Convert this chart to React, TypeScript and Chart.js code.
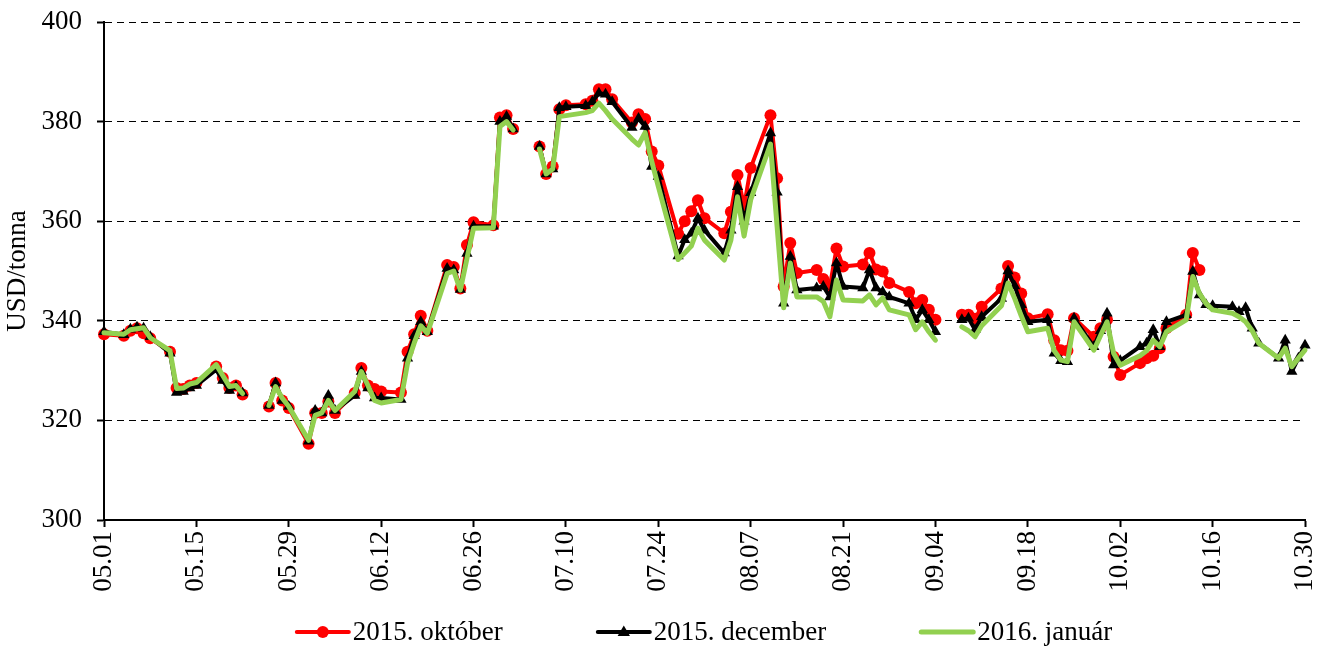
import React, { useEffect, useRef } from "react";
import { Chart, registerables } from "chart.js";

Chart.register(...registerables);

// Trading days (MM.DD, 2015); holidays are kept with null values so the lines break there
const dates = [
  "05.01", "05.04", "05.05", "05.06", "05.07", "05.08",
  "05.11", "05.12", "05.13", "05.14", "05.15",
  "05.18", "05.19", "05.20", "05.21", "05.22",
  "05.25", "05.26", "05.27", "05.28", "05.29",
  "06.01", "06.02", "06.03", "06.04", "06.05",
  "06.08", "06.09", "06.10", "06.11", "06.12",
  "06.15", "06.16", "06.17", "06.18", "06.19",
  "06.22", "06.23", "06.24", "06.25", "06.26",
  "06.29", "06.30", "07.01", "07.02", "07.03",
  "07.06", "07.07", "07.08", "07.09", "07.10",
  "07.13", "07.14", "07.15", "07.16", "07.17",
  "07.20", "07.21", "07.22", "07.23", "07.24",
  "07.27", "07.28", "07.29", "07.30", "07.31",
  "08.03", "08.04", "08.05", "08.06", "08.07",
  "08.10", "08.11", "08.12", "08.13", "08.14",
  "08.17", "08.18", "08.19", "08.20", "08.21",
  "08.24", "08.25", "08.26", "08.27", "08.28",
  "08.31", "09.01", "09.02", "09.03", "09.04",
  "09.07", "09.08", "09.09", "09.10", "09.11",
  "09.14", "09.15", "09.16", "09.17", "09.18",
  "09.21", "09.22", "09.23", "09.24", "09.25",
  "09.28", "09.29", "09.30", "10.01", "10.02",
  "10.05", "10.06", "10.07", "10.08", "10.09",
  "10.12", "10.13", "10.14", "10.15", "10.16",
  "10.19", "10.20", "10.21", "10.22", "10.23",
  "10.26", "10.27", "10.28", "10.29", "10.30",
];

const oct2015 = [
  337.3, 337.0, 338.0, 338.5, 337.5, 336.5,
  333.8, 326.5, 326.3, 327.0, 327.5,
  330.8, 328.5, 326.5, 327.0, 325.2,
  null, 322.8, 327.5, 324.0, 322.5,
  315.3, 321.5, 321.5, 323.8, 321.5,
  325.5, 330.5, 327.0, 326.3, 325.8,
  325.6, 333.8, 337.3, 341.0, 338.0,
  351.2, 350.8, 346.5, 355.2, 359.8,
  359.2, 380.8, 381.3, 378.5, null,
  375.0, 369.5, 371.0, 382.5, 383.3,
  383.5, 384.2, 386.5, 386.5, 384.5,
  379.8, 381.5, 380.5, 374.0, 371.2,
  357.5, 360.0, 362.0, 364.2, 360.6,
  357.6, 361.9, 369.3, 363.0, 370.7,
  381.3, 368.6, 346.9, 355.6, 349.6,
  350.2, 348.4, 346.9, 354.5, 350.9,
  351.3, 353.6, 350.3, 349.9, 347.6,
  345.8, 343.5, 344.2, 342.2, 340.2,
  null, 341.2, 341.2, 340.4, 342.8,
  346.5, 351.0, 348.7, 345.5, 340.5,
  341.3, 336.1, 334.1, 334.0, 340.5,
  336.8, 338.5, 340.2, 332.8, 329.1,
  331.5, 332.5, 333.0, 334.5, 338.5,
  341.2, 353.6, 350.2, null, null,
  null, null, null, null, null,
  null, null, null, null, null,
];

const dec2015 = [
  337.8, 337.2, 338.3, 338.7, 338.5, 336.8,
  333.5, 325.6, 325.8, 326.5, 327.0,
  330.2, 328.0, 326.0, 326.8, 325.5,
  null, 323.0, 327.5, 324.0, 322.8,
  315.8, 322.0, 321.5, 325.0, 322.0,
  325.0, 329.8, 326.5, 324.5, 324.5,
  324.2, 332.5, 337.0, 339.8, 337.8,
  350.5, 350.2, 346.3, 353.5, 359.0,
  359.0, 380.0, 381.0, 378.5, null,
  375.0, 369.5, 370.5, 382.8, 383.0,
  383.2, 384.0, 385.7, 385.5, 384.0,
  378.8, 380.6, 379.0, 371.0, 369.0,
  353.0, 356.3, 357.6, 360.6, 358.2,
  353.6, 358.2, 366.9, 360.0, 365.7,
  377.7, 365.8, 343.5, 352.9, 346.2,
  346.6, 346.9, 344.8, 351.6, 346.9,
  346.6, 350.2, 346.6, 345.8, 344.8,
  343.5, 340.2, 342.2, 340.2, 337.8,
  null, 340.2, 340.5, 338.2, 340.8,
  344.5, 350.0, 347.0, 343.2, 339.8,
  340.2, 333.5, 332.0, 331.8, 340.5,
  334.8, 338.0, 341.5, 331.1, 332.0,
  334.8, 335.5, 338.2, 334.8, 339.8,
  341.2, 349.9, 345.2, 343.2, 343.0,
  342.8, 341.8, 342.6, 338.5, 335.5,
  332.5, 336.1, 329.8, 332.5, 335.1,
];

const jan2016 = [
  337.6, 337.3, 338.2, 338.4, 338.6, 336.6,
  334.0, 326.4, 326.5, 327.3, 327.6,
  331.2, 329.0, 326.8, 327.0, 325.4,
  null, 323.0, 326.8, 324.5, 322.8,
  316.0, 321.0, 321.5, 324.0, 322.0,
  325.8, 329.8, 327.0, 324.0, 323.5,
  324.2, 331.5, 335.5, 339.0, 337.5,
  349.5, 350.0, 346.2, 352.5, 358.6,
  358.7, 379.0, 380.0, 378.3, null,
  374.5, 369.5, 370.5, 381.0, 381.2,
  381.8, 382.2, 383.7, 382.2, 380.5,
  376.5, 375.3, 377.8, 372.0, 367.0,
  352.3, 353.6, 355.0, 358.6, 356.2,
  352.2, 356.2, 364.9, 357.0, 364.3,
  375.5, 359.0, 342.6, 351.6, 344.8,
  344.8, 343.9, 340.8, 348.2, 344.2,
  344.0, 345.2, 343.2, 344.6, 342.2,
  341.2, 338.2, 339.8, 337.8, 336.1,
  null, 338.8, 338.0, 336.8, 339.0,
  343.0, 347.6, 344.5, 341.0, 337.8,
  338.5, 334.0, 332.1, 331.8, 339.8,
  334.1, 337.0, 339.8, 333.5, 331.1,
  333.0, 334.0, 336.1, 334.8, 337.8,
  340.2, 348.9, 345.5, 343.5, 342.2,
  341.5, 340.8, 339.8, 338.0, 335.5,
  332.5, 334.5, 330.8, 332.5, 334.1,
];

const seriesNames = ["2015. október", "2015. december", "2016. január"];
const yAxisTitle = "USD/tonna";
const yMin = 300;
const yMax = 400;
const yStep = 20;
const xFirst = "05.01";
const xLast = "10.30";
const xStepDays = 14;
const YEAR = 2015;

const FONT = "'Liberation Serif', 'Times New Roman', serif";
const DAY = 86400000;

const toDate = (s: string) => {
  const [m, d] = s.split(".").map(Number);
  return Date.UTC(YEAR, m - 1, d);
};
const dayIndex = (s: string) => Math.round((toDate(s) - toDate(xFirst)) / DAY);
const pad2 = (n: number) => (n < 10 ? "0" : "") + n;
const fmtDay = (idx: number) => {
  const dt = new Date(toDate(xFirst) + idx * DAY);
  return pad2(dt.getUTCMonth() + 1) + "." + pad2(dt.getUTCDate());
};

const toPoints = (vals: (number | null)[]) =>
  dates.map((s, i) => ({ x: dayIndex(s), y: vals[i] }));

const legendPlugin = {
  id: "bottomLegend",
  afterDraw(chart: any) {
    const ctx = chart.ctx as CanvasRenderingContext2D;
    const area = chart.chartArea;
    ctx.save();
    ctx.font = `27px ${FONT}`;
    const sample = 52;
    const gap = 4;
    const spacing = 95;
    const items = chart.data.datasets.map((ds: any) => ({
      ds,
      w: sample + gap + ctx.measureText(ds.label).width,
    }));
    const total =
      items.reduce((a: number, it: any) => a + it.w, 0) + spacing * (items.length - 1);
    let x = (area.left + area.right) / 2 - total / 2;
    const y = chart.height - 16;
    items.forEach(({ ds, w }: any) => {
      ctx.strokeStyle = ds.borderColor;
      ctx.lineWidth = ds.borderWidth;
      ctx.lineCap = "round";
      ctx.beginPath();
      ctx.moveTo(x, y);
      ctx.lineTo(x + sample, y);
      ctx.stroke();
      const cx = x + sample / 2;
      const r = ds.pointRadius;
      ctx.fillStyle = ds.pointBackgroundColor;
      if (r > 0 && ds.pointStyle === "circle") {
        ctx.beginPath();
        ctx.arc(cx, y, r, 0, Math.PI * 2);
        ctx.fill();
      } else if (r > 0 && ds.pointStyle === "triangle") {
        ctx.beginPath();
        ctx.moveTo(cx, y - r);
        ctx.lineTo(cx + r * 0.95, y + r * 0.6);
        ctx.lineTo(cx - r * 0.95, y + r * 0.6);
        ctx.closePath();
        ctx.fill();
      }
      ctx.fillStyle = "#000";
      ctx.textBaseline = "middle";
      ctx.textAlign = "left";
      ctx.fillText(ds.label, x + sample + gap, y + 1);
      x += w + spacing;
    });
    ctx.restore();
  },
};

export default function App() {
  const ref = useRef<HTMLCanvasElement>(null);

  useEffect(() => {
    document.body.style.margin = "0";
    document.body.style.overflow = "hidden";
    if (!ref.current) return;
    const chart = new Chart(ref.current, {
      type: "line",
      data: {
        datasets: [
          {
            label: seriesNames[0],
            data: toPoints(oct2015),
            borderColor: "#FF0000",
            backgroundColor: "#FF0000",
            pointBackgroundColor: "#FF0000",
            pointBorderColor: "#FF0000",
            borderWidth: 4,
            pointStyle: "circle",
            pointRadius: 6,
            pointBorderWidth: 0,
            order: 2,
            clip: 12,
          } as any,
          {
            label: seriesNames[1],
            data: toPoints(dec2015),
            borderColor: "#000000",
            backgroundColor: "#000000",
            pointBackgroundColor: "#000000",
            pointBorderColor: "#000000",
            borderWidth: 4,
            pointStyle: "triangle",
            pointRadius: 6.5,
            pointBorderWidth: 0,
            order: 1,
            clip: 12,
          } as any,
          {
            label: seriesNames[2],
            data: toPoints(jan2016),
            borderColor: "#92D050",
            backgroundColor: "#92D050",
            pointBackgroundColor: "#92D050",
            borderWidth: 5,
            pointRadius: 0,
            order: 0,
            clip: 12,
          } as any,
        ],
      },
      options: {
        responsive: false,
        animation: false,
        spanGaps: false,
        layout: { padding: { left: 0, right: 15, top: 22, bottom: 50 } },
        elements: { line: { tension: 0, borderJoinStyle: "round", borderCapStyle: "round" } },
        plugins: {
          legend: { display: false },
          tooltip: { enabled: false },
        },
        scales: {
          x: {
            type: "linear",
            min: dayIndex(xFirst),
            max: dayIndex(xLast),
            afterFit: (s: any) => {
              s.height = 78;
              s.paddingLeft = 0;
              s.paddingRight = 0;
            },
            ticks: {
              stepSize: xStepDays,
              autoSkip: false,
              minRotation: 90,
              maxRotation: 90,
              padding: 4,
              color: "#000",
              font: { family: FONT, size: 27 },
              callback: (v: any) => fmtDay(Number(v)),
            },
            grid: {
              drawOnChartArea: false,
              drawTicks: true,
              tickLength: 7,
              tickWidth: 2,
              tickColor: "#000",
              color: "#000",
            },
            border: { display: true, color: "#000", width: 2 },
          },
          y: {
            min: yMin,
            max: yMax,
            afterFit: (s: any) => {
              s.width = 104;
              s.paddingTop = 0;
              s.paddingBottom = 0;
            },
            ticks: {
              stepSize: yStep,
              padding: 15,
              color: "#000",
              font: { family: FONT, size: 27 },
            },
            grid: {
              color: "#000",
              lineWidth: 1,
              drawTicks: true,
              tickLength: 7,
              tickWidth: 2,
              tickColor: "#000",
            },
            border: { display: true, color: "#000", width: 2, dash: [7, 5] },
            title: {
              display: true,
              text: yAxisTitle,
              color: "#000",
              font: { family: FONT, size: 27 },
              padding: { top: 2, bottom: 0 },
            },
          },
        },
      } as any,
      plugins: [legendPlugin],
    });
    return () => chart.destroy();
  }, []);

  return (
    <div style={{ width: 1320, height: 648 }}>
      <canvas ref={ref} width={1320} height={648} />
    </div>
  );
}
